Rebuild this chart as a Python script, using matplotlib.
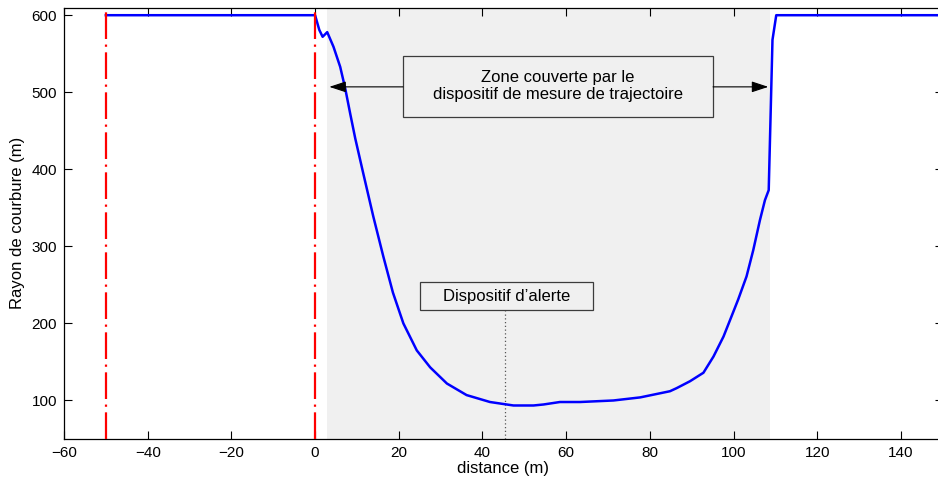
import numpy as np
import matplotlib.pyplot as plt
from matplotlib.patches import Rectangle

plt.rcParams['font.family'] = ['Liberation Sans', 'DejaVu Sans']
plt.rcParams['font.size'] = 12

# rayon de courbure relevé le long du tracé
distance = [-50, 0, 1.0, 1.8, 2.9, 4.4, 6.0, 7.2, 8.4, 9.6, 11.5, 13.9, 16.3,
            18.6, 21.1, 24.3, 27.5, 31.5, 36.2, 41.8, 47.4, 52.2, 54.6, 58.5,
            63.3, 71.3, 77.7, 84.8, 86.4, 89.6, 92.8, 95.2, 97.6, 99.5, 101.1,
            103.1, 104.7, 106.3, 107.5, 108.4, 109.3, 110.2, 150]
rayon = [600, 600, 581, 572, 578, 559, 533, 505, 472, 440, 395, 339, 287,
         240, 200, 165, 143, 122, 107, 98, 93.5, 93.5, 94.8, 98,
         98, 100, 104, 112, 116, 125, 136, 157, 183, 209, 231,
         261, 295, 334, 360, 373, 568, 600, 600]

# limites (m)
zone_mesure = (2.9, 108.7)
limites_rouges = [-50, 0]
pos_alerte = 45.4

texte_zone = "Zone couverte par le\ndispositif de mesure de trajectoire"
texte_alerte = "Dispositif d\u2019alerte"

fig = plt.figure(figsize=(9.38, 4.82), dpi=100)
ax = fig.add_axes([64 / 938, 43 / 482, 878.8 / 938, 431.5 / 482])

gris = '#f0f0f0'
ax.axvspan(zone_mesure[0], zone_mesure[1], color=gris, lw=0, zorder=0)

ax.plot(distance, rayon, color='#0000ff', lw=1.8, zorder=3)

for xr in limites_rouges:
    ax.axvline(xr, color='#ff0000', lw=1.6, dashes=(12, 2.5, 1, 2.5), zorder=4)

# dispositif d'alerte
ax.plot([pos_alerte, pos_alerte], [50, 216], color='#555555', lw=0.9,
        linestyle=(0, (1, 2)), zorder=2)
ax.add_patch(Rectangle((25.1, 216.9), 41.3, 36.4, facecolor=gris,
                       edgecolor='#3c3c3c', lw=0.9, zorder=5))
ax.text(45.7, 235.5, texte_alerte, ha='center', va='center', zorder=6)

# zone couverte
ax.add_patch(Rectangle((21.0, 468.3), 74.1, 79.2, facecolor=gris,
                       edgecolor='#3c3c3c', lw=0.9, zorder=5))
ax.text(58.0, 508.5, texte_zone, ha='center', va='center',
        linespacing=1.2, zorder=6)
fleche = dict(arrowstyle='-|>,head_length=0.85,head_width=0.28',
              color='k', lw=0.8, shrinkA=0, shrinkB=0)
ax.annotate('', xy=(3.4, 507), xytext=(21.0, 507), arrowprops=fleche, zorder=6)
ax.annotate('', xy=(108.3, 507), xytext=(95.1, 507), arrowprops=fleche, zorder=6)

ax.set_xlim(-60, 150)
ax.set_ylim(50, 610)
ax.set_xticks(np.arange(-60, 141, 20))
ax.set_yticks(np.arange(100, 601, 100))
ax.tick_params(direction='in', length=6, width=0.8, top=True, right=True,
               labelsize=11, pad=5)
for sp in ax.spines.values():
    sp.set_linewidth(0.9)

ax.set_xlabel('distance (m)', labelpad=1)
ax.set_ylabel('Rayon de courbure (m)', labelpad=5)

fig.savefig('out.png', dpi=100)
